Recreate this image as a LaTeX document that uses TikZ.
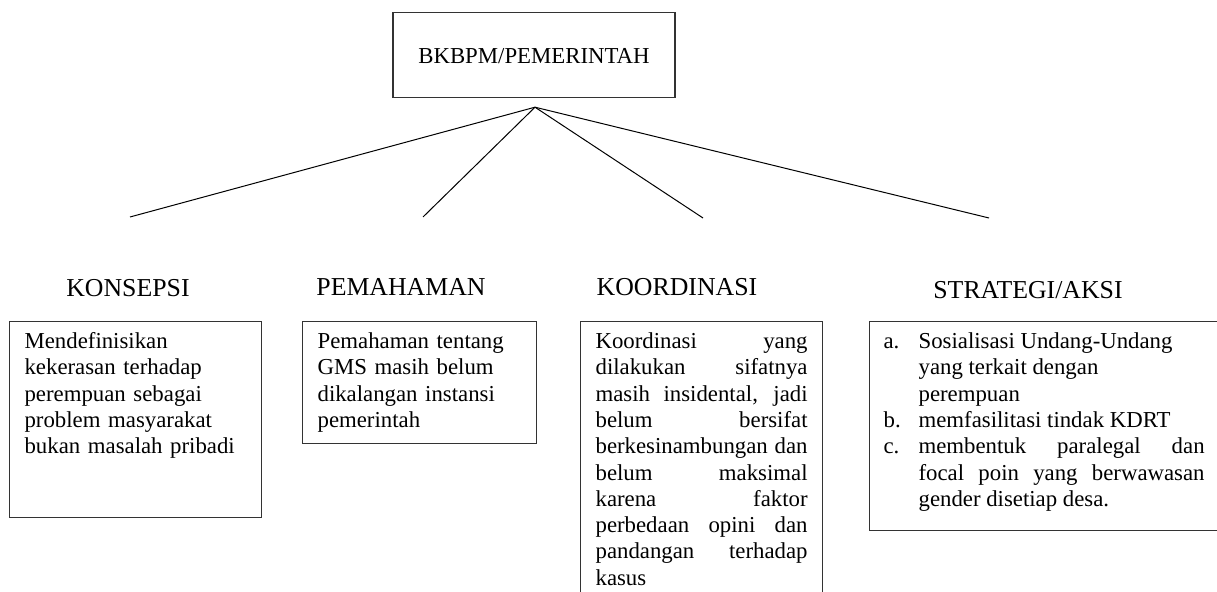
\documentclass[tikz,border=0pt]{standalone}
\usepackage{fontspec}
\setmainfont{Liberation Serif}
\usepackage{tikz}
\usetikzlibrary{calc}
\tikzset{>=latex,
    descbox/.style={draw=black!80, line width=0.6pt, anchor=north west, inner xsep=7.5pt, inner ysep=0pt,
        text height=13.5pt, font=\fontsize{11.4}{13.15}\selectfont},
    header/.style={anchor=base, inner sep=0pt, font=\fontsize{12.9}{15}\selectfont},
    branch/.style={line width=0.5pt}}
\newcommand{\butir}[1]{\hangindent=17.5pt\hangafter=1\noindent\makebox[17.5pt][l]{#1}}

\begin{document}
\begin{tikzpicture}[x=0.5pt, y=-0.5pt]
    \useasboundingbox (0,0) rectangle (1217,592);
    \node[draw=black!80, line width=0.6pt, anchor=north, minimum width=141pt, inner ysep=0pt,
        text height=25.5pt, text depth=17pt, font=\fontsize{11.4}{13.15}\selectfont] (pemerintah) at (534,12) {BKBPM/PEMERINTAH};
    \coordinate (apex) at ($(pemerintah.south)+(1,9)$);
    \coordinate (k1) at (130,217);
    \coordinate (k2) at (423,217);
    \coordinate (k3) at (703,218);
    \coordinate (k4) at (989,218);
    \draw[branch] (apex) -- (k1);
    \draw[branch] (apex) -- (k2);
    \draw[branch] (apex) -- (k3);
    \draw[branch] (apex) -- (k4);
    \node[header] (konsepsi) at (128,297) {KONSEPSI};
    \node[header] (pemahaman) at (401,296) {PEMAHAMAN};
    \node[header] (koordinasi) at (677,296) {KOORDINASI};
    \node[header] (strategi) at (1028,299) {STRATEGI/AKSI};
    \node[descbox, text width=111pt, text depth=84.5pt, align=left] (isikonsepsi) at (9,321)
        {Mendefinisikan\\ kekerasan terhadap\\ perempuan sebagai\\ problem masyarakat\\ bukan masalah pribadi};
    \node[descbox, text width=102pt, text depth=47.5pt, align=left] (isipemahaman) at (302,321)
        {Pemahaman tentang\\ GMS masih belum\\ dikalangan instansi\\ pemerintah};
    \node[descbox, text width=106pt, text depth=130pt, align=justify] (isikoordinasi) at (580,321)
        {Koordinasi yang\linebreak dilakukan sifatnya\linebreak masih insidental, jadi\linebreak
         belum bersifat\linebreak berkesinambungan dan\linebreak belum maksimal\linebreak
         karena faktor\linebreak perbedaan opini dan\linebreak pandangan terhadap\linebreak kasus};
    \node[descbox, inner xsep=7pt, text width=160.5pt, text depth=91pt, align=justify] (isistrategi) at (869,321)
        {\butir{a.}Sosialisasi Undang-Undang\newline yang terkait dengan\newline perempuan\par
         \butir{b.}memfasilitasi tindak KDRT\par
         \butir{c.}membentuk paralegal dan\linebreak focal poin yang berwawasan\linebreak gender disetiap desa.\par};
\end{tikzpicture}
\end{document}
